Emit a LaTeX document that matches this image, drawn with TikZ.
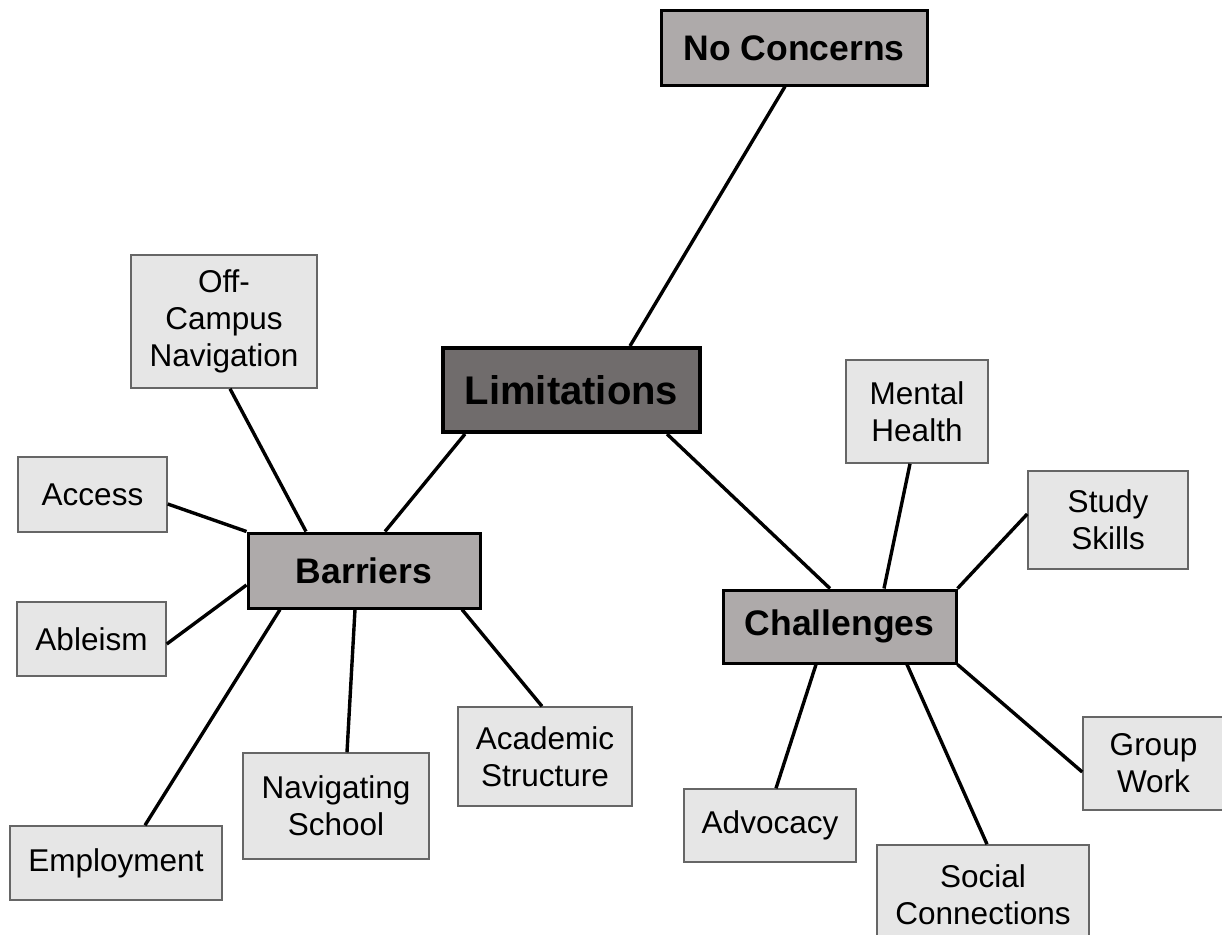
\documentclass[tikz,border=0pt]{standalone}
\usepackage{fontspec}
\setmainfont{Liberation Sans}
\definecolor{darkfill}{HTML}{706C6C}
\definecolor{midfill}{HTML}{AEAAAA}
\definecolor{lightfill}{HTML}{E6E6E6}
\definecolor{lightedge}{HTML}{666666}
\tikzset{
  hub/.style={draw=black, line width=3pt, fill=midfill, inner sep=0pt, align=center,
    font=\fontsize{35.5}{42}\selectfont\bfseries},
  core/.style={hub, line width=4pt, fill=darkfill, font=\fontsize{40}{48}\selectfont\bfseries},
  leaf/.style={draw=lightedge, line width=1.5pt, fill=lightfill, inner sep=0pt, align=center,
    font=\fontsize{31.5}{37}\selectfont},
  link/.style={draw=black, line width=3.4pt}
}
\begin{document}
\begin{tikzpicture}[x=1pt,y=-1pt]
\useasboundingbox (0,0) rectangle (1222,934);
\clip (0,0) rectangle (1222,934);
\fill[white] (0,0) rectangle (1222,934);

% main nodes
\node[core, minimum width=257pt, minimum height=84pt] (lim) at (571.5,390) {Limitations};
\node[hub, minimum width=266pt, minimum height=74pt] (noc) at (794,48) {No Concerns};
\node[hub, minimum width=232pt, minimum height=75pt] (bar) at (364,570.5) {Barriers};
\node[hub, minimum width=233pt, minimum height=73pt] (cha) at (839.5,626.5) {Challenges};

% leaves
\node[leaf, minimum width=186pt, minimum height=133pt] (off) at (224,321.5) {Off-\\Campus\\Navigation};
\node[leaf, minimum width=149pt, minimum height=75pt] (acc) at (92.5,494.5) {Access};
\node[leaf, minimum width=149pt, minimum height=74pt] (abl) at (91.5,639) {Ableism};
\node[leaf, minimum width=212pt, minimum height=74pt] (emp) at (116,863) {Employment};
\node[leaf, minimum width=186pt, minimum height=106pt] (nav) at (336,806) {Navigating\\School};
\node[leaf, minimum width=174pt, minimum height=99pt] (aca) at (545,756.5) {Academic\\Structure};
\node[leaf, minimum width=142pt, minimum height=103pt] (men) at (917,411.5) {Mental\\Health};
\node[leaf, minimum width=160pt, minimum height=98pt] (stu) at (1108,520) {Study\\Skills};
\node[leaf, minimum width=141pt, minimum height=93pt] (grp) at (1153.5,763.5) {Group\\Work};
\node[leaf, minimum width=172pt, minimum height=73pt] (adv) at (770,825.5) {Advocacy};
\node[leaf, minimum width=212pt, minimum height=100pt] (soc) at (983,895) {Social\\Connections};

% connectors
\draw[link] ([xshift=58.5pt]lim.north) -- ([xshift=-9pt]noc.south);
\draw[link] ([xshift=-106.5pt]lim.south) -- ([xshift=21pt]bar.north);
\draw[link] ([xshift=95.5pt]lim.south) -- ([xshift=-9.5pt]cha.north);

\draw[link] ([xshift=-58pt]bar.north) -- ([xshift=6pt]off.south);
\draw[link] (bar.north west) -- ([yshift=-9.5pt]acc.east);
\draw[link] ([yshift=-14.5pt]bar.west) -- ([yshift=-5pt]abl.east);
\draw[link] ([xshift=-84pt]bar.south) -- ([xshift=29pt]emp.north);
\draw[link] ([xshift=-9pt]bar.south) -- ([xshift=11pt]nav.north);
\draw[link] ([xshift=98pt]bar.south) -- ([xshift=-3pt]aca.north);

\draw[link] ([xshift=44.5pt]cha.north) -- ([xshift=-7pt]men.south);
\draw[link] (cha.north east) -- ([yshift=6pt]stu.west);
\draw[link] (cha.south east) -- ([yshift=-8.5pt]grp.west);
\draw[link] ([xshift=67.5pt]cha.south) -- ([xshift=4pt]soc.north);
\draw[link] ([xshift=-23.5pt]cha.south) -- ([xshift=6pt]adv.north);
\end{tikzpicture}
\end{document}
